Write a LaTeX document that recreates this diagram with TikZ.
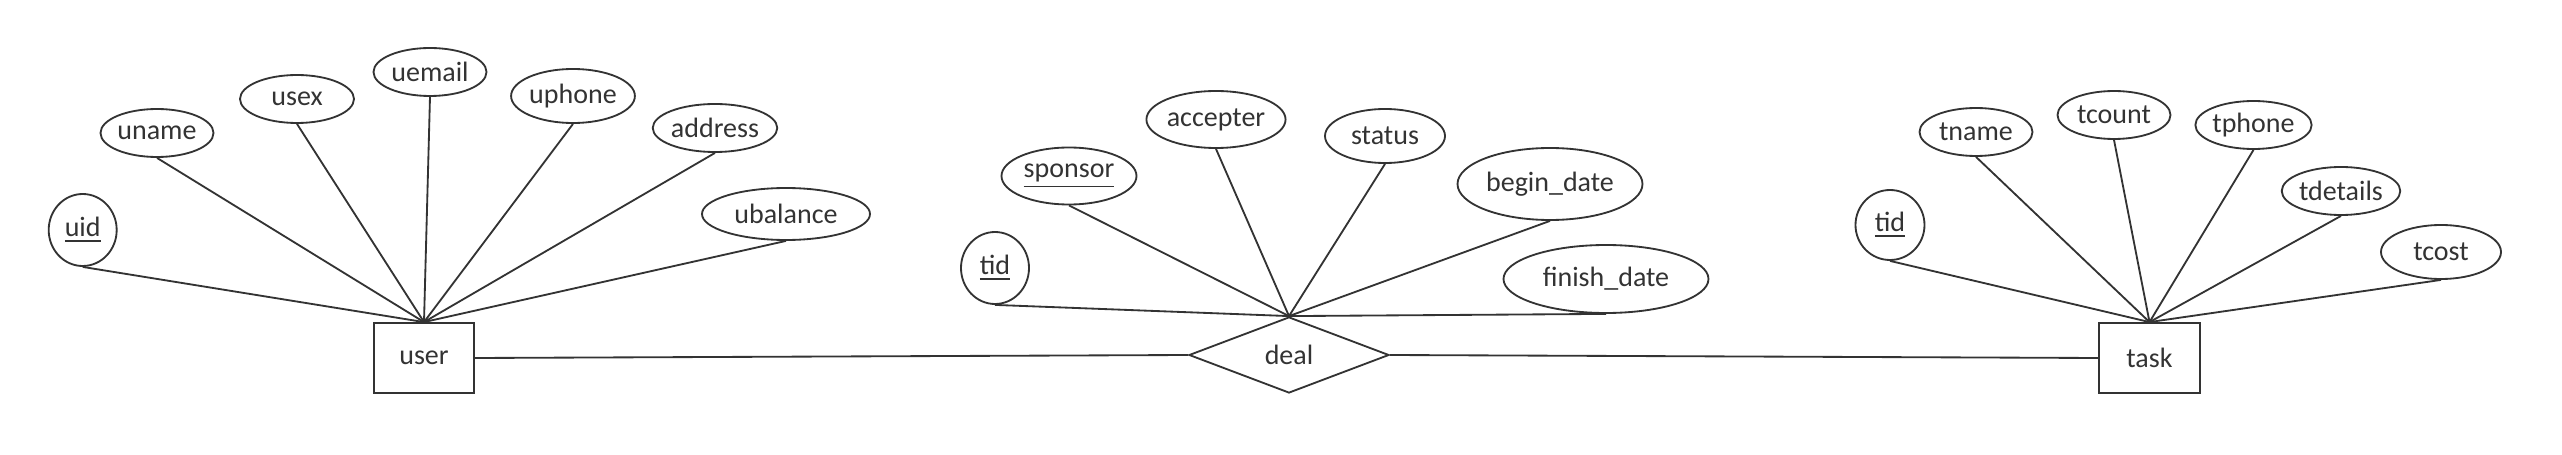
\documentclass[tikz,border=0pt]{standalone}
\usepackage{fontspec}
\setmainfont{Carlito}
\usetikzlibrary{shapes.geometric}
\definecolor{ink}{HTML}{333333}
\begin{document}
\begin{tikzpicture}[x=0.3pt,y=-0.3pt,
  lbl/.style={font=\fontsize{8.4}{10}\selectfont, text=ink, inner sep=0pt},
  attr/.style={lbl, draw=ink, ellipse, line width=0.55pt},
  ent/.style={lbl, draw=ink, rectangle, line width=0.55pt, minimum width=30pt, minimum height=21pt},
  rel/.style={lbl, draw=ink, diamond, line width=0.55pt, minimum width=60pt, minimum height=22.8pt},
  conn/.style={draw=ink, line width=0.55pt}]
\useasboundingbox (0,0) rectangle (2562,455);
% user entity
\node[ent] (user) at (424,358) {user};
\node[attr, minimum width=20.4pt, minimum height=21.6pt] (uid) at (82.7,230) {\underline{uid}};
\node[attr, minimum width=33.9pt, minimum height=14.4pt] (uname) at (157,133) {uname};
\node[attr, minimum width=34.2pt, minimum height=14.4pt] (usex) at (297,99) {usex};
\node[attr, minimum width=33.9pt, minimum height=14.4pt] (uemail) at (430,72) {uemail};
\node[attr, minimum width=35.7pt, minimum height=16.2pt] (uphone) at (573,96) {uphone};
\node[attr, minimum width=34.2pt, minimum height=14.4pt] (address) at (715,128) {address};
\node[attr, minimum width=50.4pt, minimum height=15.6pt] (ubalance) at (786,214) {ubalance};
% deal relation
\node[rel] (deal) at (1289,355) {deal};
\node[attr, minimum width=20.4pt, minimum height=21.6pt] (dtid) at (995,268) {\underline{tid}};
\node[attr, minimum width=40.5pt, minimum height=17.1pt] (sponsor) at (1069,176) {\underline{sponsor}};
\node[attr, minimum width=40.8pt, minimum height=17.1pt] (accepter) at (1216,119.5) {accepter};
\node[attr, minimum width=36pt, minimum height=16.2pt] (status) at (1385,136) {status};
\node[attr, minimum width=55.5pt, minimum height=21.6pt] (begin) at (1550,184) {begin\_date};
\node[attr, minimum width=61.5pt, minimum height=20.4pt] (finish) at (1606,279) {finish\_date};
% task entity
\node[ent, minimum width=30.3pt] (task) at (2149.5,358) {task};
\node[attr, minimum width=20.7pt, minimum height=21pt] (ttid) at (1890,225) {\underline{tid}};
\node[attr, minimum width=33.9pt, minimum height=14.4pt] (tname) at (1976,132) {tname};
\node[attr, minimum width=33.9pt, minimum height=14.4pt] (tcount) at (2114,115) {tcount};
\node[attr, minimum width=33.9pt, minimum height=14.4pt] (tphone) at (2253.5,125) {tphone};
\node[attr, minimum width=33.9pt, minimum height=14.4pt] (tdetails) at (2341,191) {tdetails};
\node[attr, minimum width=36pt, minimum height=16.2pt] (tcost) at (2441,252) {tcost};
% connectors
\foreach \a in {uid,uname,usex,uemail,uphone,address,ubalance}
  \draw[conn] (\a.south) -- (user.north);
\foreach \a in {dtid,sponsor,accepter,status,begin,finish}
  \draw[conn] (\a.south) -- (deal.north);
\foreach \a in {ttid,tname,tcount,tphone,tdetails,tcost}
  \draw[conn] (\a.south) -- (task.north);
\draw[conn] (user.east) -- (deal.west);
\draw[conn] (deal.east) -- (task.west);
\end{tikzpicture}
\end{document}
